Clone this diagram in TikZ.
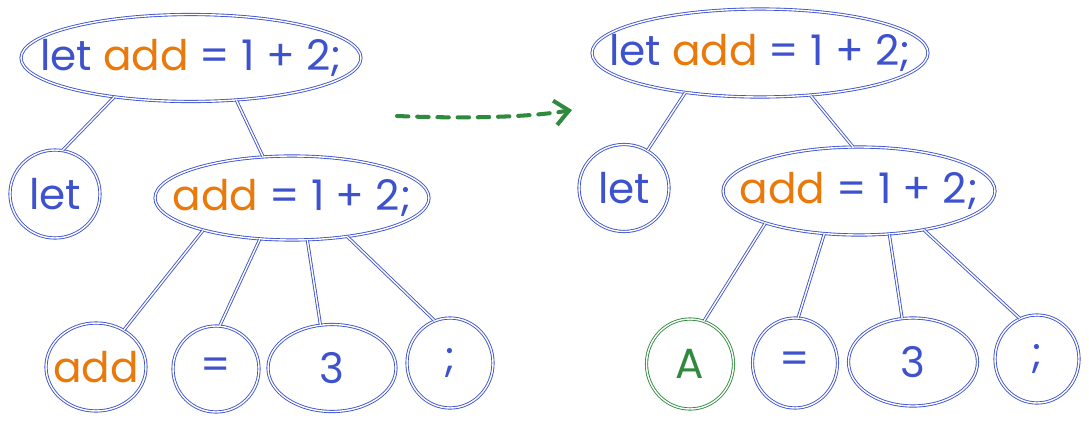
\documentclass[tikz,border=0pt]{standalone}
\usepackage{fontspec}
\setmainfont{Poppins}
\usetikzlibrary{shapes.geometric, arrows.meta}
\definecolor{inkblue}{HTML}{3D52CC}
\definecolor{inkorange}{HTML}{E8790A}
\definecolor{inkgreen}{HTML}{2F8A3E}
\newcommand{\tokbox}[1]{\makebox[0pt]{#1}}
\newcommand{\ident}[1]{\textcolor{inkorange}{#1}}
\tikzset{
  sketch line/.style={
    line width=0.5pt,        % thin pen
    double=white,            % two strokes, as if drawn twice
    double distance=0.8pt,
  },
  ast node/.style={
    sketch line, draw=inkblue, ellipse, inner sep=0pt,
    text=inkblue, font=\fontsize{24}{28}\selectfont
  },
  blob size/.style 2 args={minimum width=#1, minimum height=#2},
  ast edge/.style={sketch line, draw=inkblue},
  flow arrow/.style={
    draw=inkgreen, line width=2.3pt, line cap=round,
    dash pattern=on 6.5pt off 5pt,
    -{Straight Barb[length=8pt, width=14pt, line width=2.3pt]}
  }
}

\begin{document}
\begin{tikzpicture}[x=0.02cm, y=-0.02cm]
    \useasboundingbox (0,0) rectangle (1089,423);

    % Tree before the pass
    \node[ast node, blob size={6.8cm}{1.74cm}] (rootL) at (191,58) {\tokbox{let \ident{add} = 1 + 2;}};
    \node[ast node, blob size={1.8cm}{1.76cm}] (letL) at (55,194) {\tokbox{let}};
    \node[ast node, blob size={5.48cm}{1.68cm}] (midL) at (292,198) {\tokbox{\ident{add} = 1 + 2;}};
    \node[ast node, blob size={2.0cm}{1.76cm}] (addL) at (96,367) {\tokbox{\ident{add}}};
    \node[ast node, blob size={1.72cm}{1.72cm}] (eqL) at (216,369) {\tokbox{=}};
    \node[ast node, blob size={2.56cm}{1.74cm}] (threeL) at (332,368) {\tokbox{3}};
    \node[ast node, blob size={1.72cm}{1.8cm}] (semiL) at (450,363) {\tokbox{;}};

    \draw[ast edge] (rootL.207) -- (letL.80);
    \draw[ast edge] (rootL.-43) -- (midL.125);
    \draw[ast edge] (midL.200) -- (addL.53);
    \draw[ast edge] (midL.232) -- (eqL.85);
    \draw[ast edge] (midL.290) -- (threeL.105);
    \draw[ast edge] (midL.325) -- (semiL.110);

    % the rewrite step
    \coordinate (flowtail) at (397,116);
    \coordinate (flowhead) at (572,110);
    \draw[flow arrow] (flowtail) .. controls (470,119) and (530,117) .. (flowhead);

    % Tree after the pass
    \node[ast node, blob size={6.72cm}{1.76cm}] (rootR) at (760,53) {\tokbox{let \ident{add} = 1 + 2;}};
    \node[ast node, blob size={1.8cm}{1.74cm}] (letR) at (624,188) {\tokbox{let}};
    \node[ast node, blob size={5.44cm}{1.76cm}] (midR) at (859,191) {\tokbox{\ident{add} = 1 + 2;}};
    \node[ast node, blob size={1.74cm}{1.8cm}, draw=inkgreen, text=inkgreen] (constR) at (690,364) {\tokbox{A}};
    \node[ast node, blob size={1.7cm}{1.8cm}] (eqR) at (795,363) {\tokbox{=}};
    \node[ast node, blob size={2.58cm}{1.76cm}] (threeR) at (913,362) {\tokbox{3}};
    \node[ast node, blob size={1.68cm}{1.76cm}] (semiR) at (1037,359) {\tokbox{;}};

    \draw[ast edge] (rootR.208) -- (letR.58);
    \draw[ast edge] (rootR.320) -- (midR.98);
    \draw[ast edge] (midR.199) -- (constR.72);
    \draw[ast edge] (midR.231) -- (eqR.86);
    \draw[ast edge] (midR.305) -- (threeR.104);
    \draw[ast edge] (midR.329) -- (semiR.113);
\end{tikzpicture}
\end{document}
